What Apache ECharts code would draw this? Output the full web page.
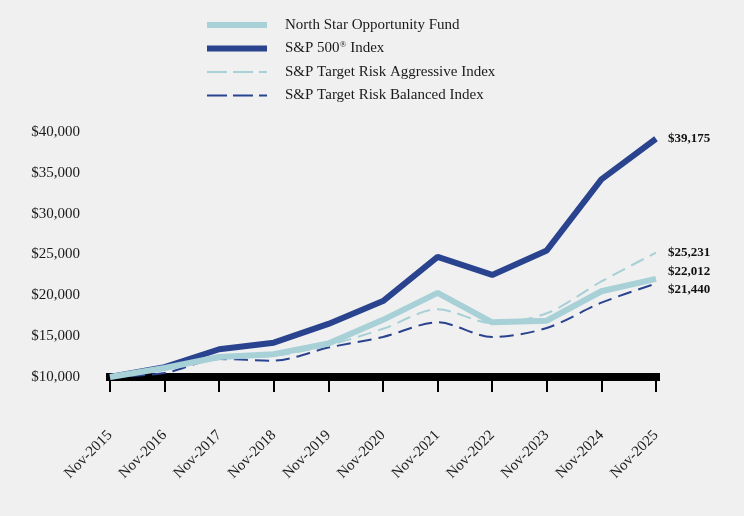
<!DOCTYPE html>
<html><head><meta charset="utf-8">
<script src="https://cdn.jsdelivr.net/npm/echarts@6/dist/echarts.min.js"></script>
<style>html,body{margin:0;padding:0;background:#f0f0f0;}#c{width:744px;height:516px;}</style>
</head><body><div id="c"></div>
<script>
var categories = ['Nov-2015','Nov-2016','Nov-2017','Nov-2018','Nov-2019','Nov-2020','Nov-2021','Nov-2022','Nov-2023','Nov-2024','Nov-2025'];
var fundValues = [10000, 11100, 12450, 12800, 14100, 17000, 20300, 16700, 16900, 20500, 22012];
var sp500Values = [10000, 11200, 13400, 14200, 16500, 19300, 24700, 22500, 25500, 34200, 39175];
var aggressiveValues = [10000, 11000, 12400, 12600, 13900, 15900, 18300, 16600, 17800, 21700, 25231];
var balancedValues = [10000, 10500, 12200, 12000, 13600, 14900, 16700, 14900, 16000, 19100, 21440];
var seriesNames = ['North Star Opportunity Fund', 'S&P 500® Index', 'S&P Target Risk Aggressive Index', 'S&P Target Risk Balanced Index'];
var yTicks = [10000, 15000, 20000, 25000, 30000, 35000, 40000];

var LIGHT = '#a7d0d7', DARK = '#29438f';
var FONT = '"Liberation Serif", "Times New Roman", serif';
function money(v){ return '$' + v.toLocaleString('en-US'); }

var chart = echarts.init(document.getElementById('c'));
function endLabel(offsetY){
  return {show:true, formatter:function(p){return money(p.value);}, fontFamily:FONT, fontWeight:'bold', fontSize:13, color:'#111', distance:12, offset:[0, offsetY]};
}
var legendStyles = [
  {width:6, type:'solid', color:LIGHT},
  {width:6, type:'solid', color:DARK},
  {width:2, type:[20,6], color:LIGHT},
  {width:2, type:[20,6], color:DARK}
];
chart.setOption({
  backgroundColor:'#f0f0f0',
  animation:false,
  grid:{left:110, right:88, top:132, bottom:139},
  legend:{
    orient:'vertical', left:204, top:16, padding:0, itemWidth:60, itemHeight:10, itemGap:5.5,
    itemStyle:{opacity:0},
    textStyle:{fontFamily:FONT, fontSize:15, lineHeight:18, color:'#1a1a1a', padding:[0,0,0,13],
      rich:{sup:{fontFamily:FONT, fontSize:9, lineHeight:18, color:'#1a1a1a', padding:[0,0,7,0]}, n:{fontFamily:FONT, fontSize:15, lineHeight:18, color:'#1a1a1a'}}},
    formatter:function(name){
      if(name.indexOf('®')>=0){ var parts=name.split('®'); return '{n|'+parts[0]+'}{sup|®}{n|'+parts[1]+'}'; }
      return name;
    },
    data:seriesNames.map(function(n,i){ return {name:n, lineStyle:legendStyles[i], itemStyle:{opacity:0}}; })
  },
  xAxis:{
    type:'category', data:categories, boundaryGap:false,
    axisLine:{lineStyle:{color:'#000', width:8, cap:'square'}},
    axisTick:{show:true, length:15, lineStyle:{color:'#000', width:2}},
    axisLabel:{rotate:45, margin:56, fontFamily:FONT, fontSize:15, color:'#1a1a1a'}
  },
  yAxis:{
    type:'value', min:10000, max:40000, interval:5000,
    axisLine:{show:false}, axisTick:{show:false}, splitLine:{show:false},
    axisLabel:{margin:30, fontFamily:FONT, fontSize:15, color:'#1a1a1a', formatter:function(v){return money(v);}}
  },
  series:[
    {name:seriesNames[1], type:'line', data:sp500Values, symbol:'none', z:2,
     lineStyle:{color:DARK, width:6}, itemStyle:{color:DARK}, endLabel:endLabel(0)},
    {name:seriesNames[2], type:'line', data:aggressiveValues, symbol:'none', smooth:0.3, z:3,
     lineStyle:{color:LIGHT, width:2, type:[14,7]}, itemStyle:{color:LIGHT}, endLabel:endLabel(0)},
    {name:seriesNames[3], type:'line', data:balancedValues, symbol:'none', smooth:0.3, z:3,
     lineStyle:{color:DARK, width:2, type:[14,7]}, itemStyle:{color:DARK}, endLabel:endLabel(6)},
    {name:seriesNames[0], type:'line', data:fundValues, symbol:'none', z:4,
     lineStyle:{color:LIGHT, width:6}, itemStyle:{color:LIGHT}, endLabel:endLabel(-7)}
  ]
});
</script></body></html>
